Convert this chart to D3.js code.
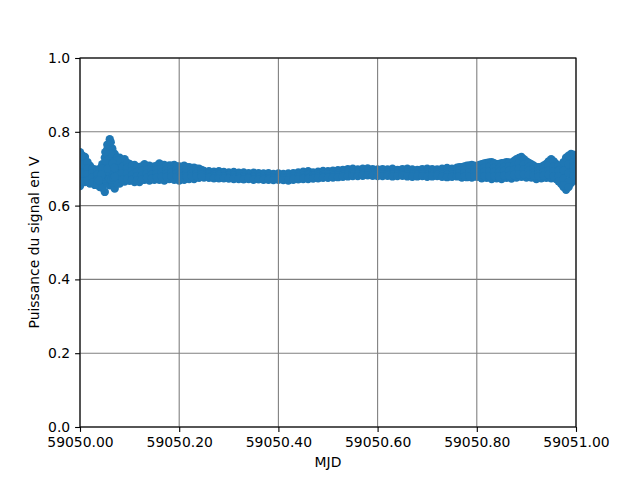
<!DOCTYPE html>
<html>
<head>
<meta charset="utf-8">
<script src="https://cdn.jsdelivr.net/npm/d3@7"></script>
<style>
  html, body { margin: 0; padding: 0; background: #fff; }
  svg { display: block; font-family: "DejaVu Sans", sans-serif; }
</style>
</head>
<body>
<svg id="chart" width="640" height="480"></svg>
<script>
// MJD sample times (every 0.01 day)
const mjdStart = 59050.00;
const mjdStep = 0.01;

// Signal readings, five per time step (highest to lowest)
const powerP1 = [
  .745,.732,.708,.698,.700,.730,.780,.740,.730,.726,
  .713,.710,.705,.712,.708,.706,.714,.710,.709,.710,
  .706,.708,.704,.703,.700,.694,.693,.692,.693,.691,
  .690,.691,.689,.690,.688,.689,.688,.687,.688,.686,
  .687,.686,.687,.688,.690,.692,.693,.690,.692,.694,
  .693,.695,.696,.697,.699,.700,.698,.700,.701,.699,
  .698,.699,.698,.700,.697,.699,.700,.698,.697,.699,
  .700,.699,.698,.700,.702,.700,.703,.704,.708,.710,
  .707,.712,.716,.718,.712,.715,.718,.716,.726,.732,
  .720,.712,.704,.705,.713,.726,.713,.705,.730,.740,.735
];
const powerP2 = [
  .722,.712,.695,.688,.688,.708,.750,.718,.712,.710,
  .702,.698,.695,.701,.698,.697,.703,.700,.700,.700,
  .696,.698,.696,.695,.694,.689,.688,.687,.688,.687,
  .686,.686,.685,.685,.684,.684,.684,.683,.683,.682,
  .683,.682,.682,.684,.685,.687,.688,.686,.688,.689,
  .689,.690,.691,.692,.694,.695,.694,.695,.696,.695,
  .694,.694,.694,.695,.693,.694,.695,.693,.692,.694,
  .694,.694,.693,.694,.696,.694,.697,.697,.700,.701,
  .700,.702,.705,.706,.702,.704,.707,.705,.712,.717,
  .708,.703,.696,.697,.703,.712,.703,.694,.708,.720,.718
];
const powerP3 = [
  .700,.695,.684,.678,.675,.685,.718,.694,.695,.695,
  .690,.687,.684,.690,.688,.688,.692,.689,.690,.690,
  .687,.689,.688,.687,.687,.685,.684,.683,.683,.682,
  .681,.681,.680,.680,.680,.679,.679,.678,.679,.677,
  .678,.677,.677,.679,.680,.682,.683,.681,.683,.684,
  .684,.685,.686,.687,.689,.690,.689,.690,.691,.690,
  .689,.689,.689,.689,.688,.690,.689,.688,.688,.689,
  .689,.689,.689,.689,.689,.689,.691,.690,.692,.693,
  .692,.693,.695,.695,.693,.693,.696,.694,.700,.704,
  .697,.694,.688,.689,.694,.700,.692,.682,.686,.700,.701
];
const powerP4 = [
  .676,.680,.672,.667,.662,.660,.685,.668,.677,.680,
  .678,.675,.674,.680,.678,.679,.681,.678,.681,.680,
  .677,.679,.680,.680,.681,.680,.679,.678,.679,.678,
  .677,.677,.676,.675,.676,.675,.675,.674,.674,.673,
  .674,.673,.673,.674,.676,.677,.677,.677,.678,.680,
  .679,.681,.682,.683,.684,.685,.684,.686,.687,.685,
  .684,.685,.685,.684,.684,.685,.684,.683,.683,.685,
  .683,.684,.684,.683,.683,.683,.685,.683,.684,.684,
  .685,.683,.685,.683,.683,.682,.685,.683,.688,.690,
  .686,.685,.680,.681,.684,.687,.682,.670,.664,.680,.684
];
const powerP5 = [
  .653,.664,.660,.656,.650,.637,.655,.646,.660,.665,
  .667,.664,.664,.670,.668,.670,.670,.668,.672,.670,
  .668,.670,.672,.672,.675,.676,.675,.674,.674,.674,
  .673,.672,.672,.671,.672,.670,.671,.670,.670,.669,
  .670,.669,.668,.670,.671,.672,.672,.673,.674,.675,
  .675,.676,.677,.678,.679,.680,.680,.681,.682,.681,
  .680,.680,.681,.679,.680,.681,.679,.678,.679,.680,
  .678,.679,.680,.678,.677,.678,.679,.676,.677,.676,
  .678,.674,.675,.672,.674,.672,.675,.673,.676,.678,
  .676,.676,.672,.674,.675,.674,.672,.659,.643,.661,.668
];

// Half-step readings (t = start + 0.005) in the noisy first stretch, four per step
const earlyHalfStart = 59050.005;
const earlyHalf = [
  [.735,.711,.688,.665],[.718,.700,.685,.668],[.700,.688,.676,.662],[.695,.683,.670,.657],
  [.712,.692,.672,.648],[.752,.720,.690,.660],[.755,.725,.695,.662],[.730,.708,.686,.660],
  [.722,.705,.688,.670],[.716,.702,.688,.672],[.708,.695,.683,.670],[.704,.692,.680,.668],
  [.706,.694,.682,.670],[.707,.697,.687,.675],[.705,.695,.685,.674],[.708,.698,.688,.677],
  [.710,.700,.689,.678],[.707,.698,.688,.678],[.708,.699,.689,.679],[.706,.697,.688,.678],
  [.705,.696,.687,.678],[.704,.696,.688,.679],[.702,.695,.687,.680],[.700,.693,.687,.680],
  [.697,.690,.684,.678]
];
// Half-step readings in the noisy last stretch
const lateHalfStart = 59050.765;
const lateHalf = [
  [.704,.696,.688,.680],[.706,.697,.688,.679],[.709,.700,.690,.679],[.708,.699,.690,.680],
  [.710,.700,.690,.679],[.714,.703,.692,.680],[.717,.705,.693,.680],[.715,.703,.692,.680],
  [.713,.702,.691,.679],[.716,.705,.694,.681],[.717,.706,.694,.681],[.721,.709,.697,.683],
  [.729,.715,.700,.685],[.726,.712,.699,.685],[.716,.705,.695,.684],[.708,.699,.690,.681],
  [.704,.696,.688,.680],[.709,.700,.691,.681],[.720,.708,.696,.684],[.720,.706,.693,.680],
  [.709,.695,.680,.666],[.718,.695,.672,.650],[.735,.712,.688,.664],[.738,.718,.698,.680]
];

// Extra isolated readings in the noisy stretches
const extraMjd = [59050.052, 59050.055, 59050.058, 59050.062, 59050.065, 59050.045, 59050.075,
                  59050.975, 59050.985, 59050.995, 59050.004,
                  59050.048, 59050.053, 59050.057, 59050.060, 59050.063, 59050.067, 59050.070,
                  59050.056, 59050.061, 59050.066, 59050.051, 59050.069, 59050.043, 59050.038];
const extraVal = [0.720,     0.765,     0.735,     0.772,     0.750,     0.700,     0.722,
                  0.655,     0.650,     0.705,     0.735,
                  0.672,     0.668,     0.670,     0.672,     0.670,     0.675,     0.678,
                  0.700,     0.742,     0.715,     0.745,     0.702,     0.683,     0.668];

const xTicks = [59050.0, 59050.2, 59050.4, 59050.6, 59050.8, 59051.0];
const yTicks = [0.0, 0.2, 0.4, 0.6, 0.8, 1.0];

const xLabel = "MJD";
const yLabel = "Puissance du signal en V";

(function () {
  // ---- build point list
  const points = [];
  [powerP1, powerP2, powerP3, powerP4, powerP5].forEach(arr => {
    arr.forEach((v, i) => points.push({ t: mjdStart + i * mjdStep, v }));
  });
  earlyHalf.forEach((vals, k) => vals.forEach(v => points.push({ t: earlyHalfStart + k * mjdStep, v })));
  lateHalf.forEach((vals, k) => vals.forEach(v => points.push({ t: lateHalfStart + k * mjdStep, v })));
  extraMjd.forEach((t, i) => points.push({ t, v: extraVal[i] }));

  // ---- layout
  const svg = d3.select("#chart");
  const mL = 80, mR = 576, mT = 58, mB = 427;

  const x = d3.scaleLinear().domain([59050, 59051]).range([mL, mR]);
  const y = d3.scaleLinear().domain([0, 1]).range([mB, mT]);

  svg.append("defs").append("clipPath").attr("id", "plotclip")
    .append("rect").attr("x", mL).attr("y", mT)
    .attr("width", mR - mL).attr("height", mB - mT);

  // points
  svg.append("g").attr("clip-path", "url(#plotclip)")
    .selectAll("circle").data(points).enter().append("circle")
    .attr("cx", d => x(d.t)).attr("cy", d => y(d.v))
    .attr("r", 4.17).attr("fill", "#1f77b4");

  // grid (above points, as in matplotlib default)
  const grid = svg.append("g");
  grid.selectAll("line.gx").data(xTicks).enter().append("line")
    .attr("x1", d => x(d)).attr("x2", d => x(d))
    .attr("y1", mT).attr("y2", mB)
    .attr("stroke", "#808080").attr("stroke-width", 1.1);
  grid.selectAll("line.gy").data(yTicks).enter().append("line")
    .attr("x1", mL).attr("x2", mR)
    .attr("y1", d => y(d)).attr("y2", d => y(d))
    .attr("stroke", "#808080").attr("stroke-width", 1.1);

  // axes
  const fs = "13.9px";
  const xAxis = d3.axisBottom(x).tickValues(xTicks).tickFormat(d3.format(".2f"))
    .tickSizeInner(4.9).tickSizeOuter(0).tickPadding(4.9);
  const yAxis = d3.axisLeft(y).tickValues(yTicks).tickFormat(d3.format(".1f"))
    .tickSizeInner(4.9).tickSizeOuter(0).tickPadding(4.9);

  const gx = svg.append("g").attr("transform", `translate(0,${mB})`).call(xAxis);
  const gy = svg.append("g").attr("transform", `translate(${mL},0)`).call(yAxis);
  [gx, gy].forEach(g => {
    g.select(".domain").remove();
    g.selectAll(".tick line").attr("stroke", "#000").attr("stroke-width", 1.1);
    g.selectAll(".tick text").attr("fill", "#000")
      .style("font-family", "DejaVu Sans").style("font-size", fs);
  });

  // spines
  svg.append("rect").attr("x", mL).attr("y", mT)
    .attr("width", mR - mL).attr("height", mB - mT)
    .attr("fill", "none").attr("stroke", "#000").attr("stroke-width", 1.1);

  // labels
  svg.append("text").attr("x", (mL + mR) / 2).attr("y", 467)
    .attr("text-anchor", "middle").style("font-size", fs).attr("fill", "#000")
    .text(xLabel);
  svg.append("text")
    .attr("transform", `translate(39,${(mT + mB) / 2}) rotate(-90)`)
    .attr("text-anchor", "middle").style("font-size", fs).attr("fill", "#000")
    .text(yLabel);
})();
</script>
</body>
</html>
